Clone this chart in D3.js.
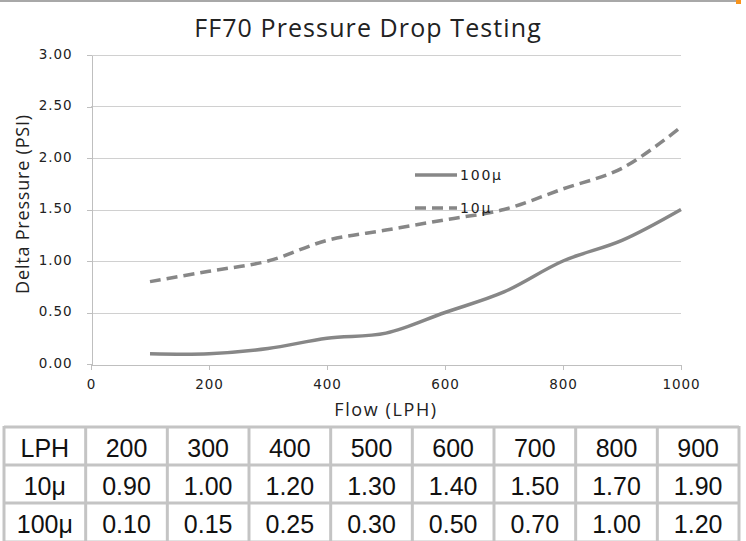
<!DOCTYPE html>
<meta charset="utf-8">
<style>
body { margin: 0; background: #fff; }
svg { display: block; }
.axis path, .axis line { stroke: #bfbfbf; stroke-width: 1px; shape-rendering: crispEdges; }
.axis text { font: 13.5px "DejaVu Sans", Verdana, sans-serif; fill: #222; letter-spacing: 0.9px; }
.grid line { stroke: #d0d0d0; shape-rendering: crispEdges; }
.series { fill: none; stroke: #878787; stroke-width: 3.5px; }
.cell text { font: 25px "Liberation Sans", Arial, sans-serif; fill: #111; }
</style>
<body>
<svg width="746" height="541"></svg>
<script src="https://d3js.org/d3.v7.min.js"></script>
<script>

// flow rates (LPH) and measured pressure drop (PSI)
var flow = [100, 200, 300, 400, 500, 600, 700, 800, 900, 1000];
var psi10 = [0.80, 0.90, 1.00, 1.20, 1.30, 1.40, 1.50, 1.70, 1.90, 2.30];
var psi100 = [0.10, 0.10, 0.15, 0.25, 0.30, 0.50, 0.70, 1.00, 1.20, 1.50];
var yTicks = [0, 0.5, 1, 1.5, 2, 2.5, 3];
var xTicks = [0, 200, 400, 600, 800, 1000];
var tableFlow = [200, 300, 400, 500, 600, 700, 800, 900];

var svg = d3.select("svg");

// top frame line + orange corner
svg.append("rect").attr("x", 0).attr("y", 0).attr("width", 737).attr("height", 2).attr("fill", "#a8a8a8");
svg.append("rect").attr("x", 736).attr("y", 0).attr("width", 5).attr("height", 4).attr("fill", "#f7941d");

var x = d3.scaleLinear().domain([0, 1000]).range([91, 681]);
var y = d3.scaleLinear().domain([0, 3]).range([364, 55]);

svg.append("g").attr("class", "grid")
  .selectAll("line").data(yTicks.slice(1)).enter()
  .append("line")
  .attr("x1", x(0)).attr("x2", x(1000))
  .attr("y1", function(d) { return Math.round(y(d)) + 0.5; })
  .attr("y2", function(d) { return Math.round(y(d)) + 0.5; });

var gX = svg.append("g").attr("class", "axis")
  .attr("transform", "translate(0," + (Math.round(y(0)) + 0.5) + ")")
  .call(d3.axisBottom(x).tickValues(xTicks).tickFormat(d3.format("d")).tickSize(5).tickSizeOuter(0).tickPadding(10));

var gY = svg.append("g").attr("class", "axis")
  .attr("transform", "translate(" + (x(0) + 0.5) + ",0)")
  .call(d3.axisLeft(y).tickValues(yTicks).tickFormat(d3.format(".2f")).tickSize(5).tickSizeOuter(0).tickPadding(14));
gY.selectAll("text").attr("dy", "0.25em");

svg.append("text")
  .attr("x", 368).attr("y", 37)
  .attr("text-anchor", "middle")
  .style("font", "25px 'Open Sans', sans-serif").style("fill", "#222")
  .style("letter-spacing", "1.1px")
  .text("FF70 Pressure Drop Testing");

svg.append("text")
  .attr("x", 386).attr("y", 416)
  .attr("text-anchor", "middle")
  .style("font", "18px 'Open Sans', sans-serif").style("fill", "#222")
  .style("letter-spacing", "1.6px")
  .text("Flow (LPH)");

svg.append("text")
  .attr("transform", "translate(29,204) rotate(-90)")
  .attr("text-anchor", "middle")
  .style("font", "18px 'Open Sans', sans-serif").style("fill", "#222")
  .style("letter-spacing", "0.8px")
  .text("Delta Pressure (PSI)");

var line = d3.line()
  .x(function(d, i) { return x(flow[i]); })
  .y(function(d) { return y(d); })
  .curve(d3.curveCatmullRom.alpha(0.5));

svg.append("path").datum(psi100).attr("class", "series").attr("d", line);
svg.append("path").datum(psi10).attr("class", "series")
  .attr("stroke-dasharray", "11,6").attr("d", line);

// legend
var legend = [{name: "100\u03bc", dash: null, y: 175}, {name: "10\u03bc", dash: "11,6", y: 208}];
var lg = svg.selectAll(".legend").data(legend).enter().append("g");
lg.append("line").attr("class", "series")
  .attr("x1", 415).attr("x2", 457)
  .attr("y1", function(d) { return d.y; }).attr("y2", function(d) { return d.y; })
  .attr("stroke-dasharray", function(d) { return d.dash; });
lg.append("text")
  .attr("x", 460).attr("y", function(d) { return d.y + 5; })
  .style("font", "14px 'DejaVu Sans', Verdana, sans-serif").style("fill", "#222")
  .style("letter-spacing", "1.8px")
  .text(function(d) { return d.name; });

// data table
var rows = [
  ["LPH"].concat(tableFlow.map(String)),
  ["10\u03bc"].concat(tableFlow.map(function(f) { return psi10[flow.indexOf(f)].toFixed(2); })),
  ["100\u03bc"].concat(tableFlow.map(function(f) { return psi100[flow.indexOf(f)].toFixed(2); }))
];
var colX = d3.scaleLinear().domain([0, 9]).range([4, 739]);
var rowY = [427, 465, 503, 542];

var tg = svg.append("g").attr("class", "cell");
rows.forEach(function(r, ri) {
  tg.selectAll(null).data(r).enter().append("text")
    .attr("x", function(d, ci) { return (colX(ci) + colX(ci + 1)) / 2; })
    .attr("y", rowY[ri] + 29.5)
    .attr("text-anchor", "middle")
    .text(function(d) { return d; });
});
tg.selectAll(".vl").data(d3.range(10)).enter().append("line")
  .attr("x1", function(d) { return colX(d); }).attr("x2", function(d) { return colX(d); })
  .attr("y1", rowY[0] - 1).attr("y2", 541)
  .attr("stroke", "#c4c4c4").attr("stroke-width", 3);
tg.selectAll(".hl").data(rowY).enter().append("line")
  .attr("x1", colX(0)).attr("x2", colX(9))
  .attr("y1", function(d) { return d; }).attr("y2", function(d) { return d; })
  .attr("stroke", "#c4c4c4").attr("stroke-width", 3);

</script>
</body>
